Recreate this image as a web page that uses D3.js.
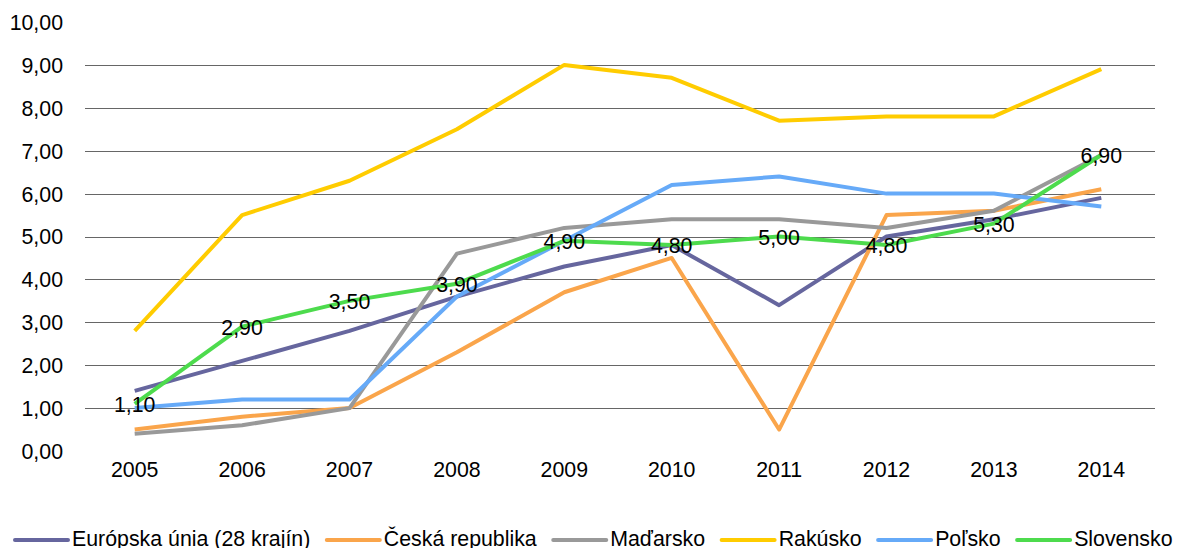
<!DOCTYPE html>
<html><head><meta charset="utf-8">
<script src="https://cdn.jsdelivr.net/npm/d3@7/dist/d3.min.js"></script>
<style>body{margin:0;background:#fff;font-family:"Liberation Sans",Arial,sans-serif;}</style>
</head><body><svg id="c" width="1181" height="548"></svg>
<script>
const years = ["2005","2006","2007","2008","2009","2010","2011","2012","2013","2014"];
const yTicks = [0,1,2,3,4,5,6,7,8,9,10];
const seriesNames = ["Európska únia (28 krajín)","Česká republika","Maďarsko","Rakúsko","Poľsko","Slovensko"];
const seriesColors = ["#66669E","#FAA54B","#999999","#FFCC00","#66AAF8","#4DDB4D"];
const euValues = [1.4,2.1,2.8,3.6,4.3,4.8,3.4,5.0,5.4,5.9];
const czValues = [0.5,0.8,1.0,2.3,3.7,4.5,0.5,5.5,5.6,6.1];
const huValues = [0.4,0.6,1.0,4.6,5.2,5.4,5.4,5.2,5.6,6.9];
const atValues = [2.8,5.5,6.3,7.5,9.0,8.7,7.7,7.8,7.8,8.9];
const plValues = [1.0,1.2,1.2,3.6,4.9,6.2,6.4,6.0,6.0,5.7];
const skValues = [1.1,2.9,3.5,3.9,4.9,4.8,5.0,4.8,5.3,6.9];
const allValues = [euValues,czValues,huValues,atValues,plValues,skValues];
const labeledSeries = 5;
const FS = 21.33;

const svg = d3.select("#c");
const x = d3.scaleBand().domain(years).range([81,1155]);
const y = d3.scaleLinear().domain([0,10]).range([451,22]);
const fmt = v => d3.format(".2f")(v).replace(".", ",");

// gridlines
svg.append("g").selectAll("line").data(yTicks.filter(t=>t>0 && t<10)).join("line")
  .attr("x1",85).attr("x2",1155).attr("y1",d=>Math.round(y(d))+0.5).attr("y2",d=>Math.round(y(d))+0.5)
  .attr("stroke","#666").attr("stroke-width",1);

// y axis labels
const yAxis = svg.append("g").attr("transform","translate(63,0)")
  .call(d3.axisLeft(y).tickValues(yTicks).tickFormat(fmt).tickSize(0).tickPadding(0));
yAxis.select(".domain").remove();
yAxis.selectAll("text").attr("font-size",FS).attr("font-family","Liberation Sans, Arial, sans-serif").attr("fill","#000").attr("dy","0.35em");

// x axis labels
const xAxis = svg.append("g").attr("transform","translate(0,462)")
  .call(d3.axisBottom(x).tickSize(0).tickPadding(0));
xAxis.select(".domain").remove();
xAxis.selectAll("text").attr("font-size",FS).attr("font-family","Liberation Sans, Arial, sans-serif").attr("fill","#000");

const line = d3.line().x((d,i)=>x(years[i])+x.bandwidth()/2).y(d=>y(d));
allValues.forEach((vals,k)=>{
  svg.append("path").datum(vals).attr("d",line).attr("fill","none")
    .attr("stroke",seriesColors[k]).attr("stroke-width",4).attr("stroke-linejoin","round");
});

// data labels
svg.append("g").selectAll("text").data(allValues[labeledSeries]).join("text")
  .attr("x",(d,i)=>x(years[i])+x.bandwidth()/2).attr("y",d=>y(d)+1)
  .attr("text-anchor","middle").attr("dominant-baseline","central")
  .attr("font-size",FS).attr("fill","#000").text(fmt);

// legend
const lg = svg.append("g");
let lx = 15;
seriesNames.forEach((n,k)=>{
  lg.append("line").attr("x1",lx).attr("x2",lx+53).attr("y1",540).attr("y2",540)
    .attr("stroke",seriesColors[k]).attr("stroke-width",4).attr("stroke-linecap","round");
  const t = lg.append("text").attr("x",lx+57).attr("y",539).attr("dominant-baseline","central")
    .attr("font-size",FS).attr("fill","#000").text(n);
  lx += 57 + t.node().getComputedTextLength() + 16.5;
});
</script></body></html>
